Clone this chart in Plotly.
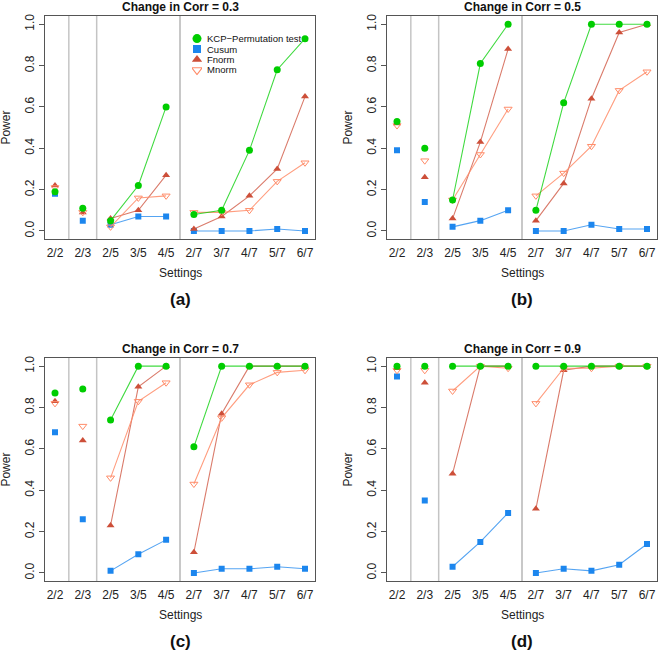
import plotly.graph_objects as go

# ---------------------------------------------------------------------------
# Data (power)
# ---------------------------------------------------------------------------
SETTINGS = ["2/2", "2/3", "2/5", "3/5", "4/5", "2/7", "3/7", "4/7", "5/7", "6/7"]
GROUPS = [[0], [1], [2, 3, 4], [5, 6, 7, 8, 9]]

KCP_A = [0.19, 0.11, 0.05, 0.22, 0.60, 0.08, 0.10, 0.39, 0.78, 0.93]
CUSUM_A = [0.18, 0.05, 0.03, 0.07, 0.07, 0.00, 0.00, 0.00, 0.01, 0.00]
FNORM_A = [0.22, 0.09, 0.06, 0.10, 0.27, 0.01, 0.07, 0.17, 0.30, 0.65]
MNORM_A = [0.21, 0.09, 0.02, 0.16, 0.17, 0.09, 0.09, 0.10, 0.24, 0.33]

KCP_B = [0.53, 0.40, 0.15, 0.81, 1.00, 0.10, 0.62, 1.00, 1.00, 1.00]
CUSUM_B = [0.39, 0.14, 0.02, 0.05, 0.10, 0.00, 0.00, 0.03, 0.01, 0.01]
FNORM_B = [0.52, 0.26, 0.06, 0.43, 0.88, 0.05, 0.23, 0.64, 0.96, 1.00]
MNORM_B = [0.51, 0.34, 0.15, 0.37, 0.59, 0.17, 0.28, 0.41, 0.68, 0.77]

KCP_C = [0.87, 0.89, 0.74, 1.00, 1.00, 0.61, 1.00, 1.00, 1.00, 1.00]
CUSUM_C = [0.68, 0.26, 0.01, 0.09, 0.16, 0.00, 0.02, 0.02, 0.03, 0.02]
FNORM_C = [0.83, 0.64, 0.23, 0.90, 1.00, 0.10, 0.77, 1.00, 1.00, 1.00]
MNORM_C = [0.82, 0.71, 0.46, 0.83, 0.92, 0.43, 0.75, 0.91, 0.97, 0.98]

KCP_D = [1.00, 1.00, 1.00, 1.00, 1.00, 1.00, 1.00, 1.00, 1.00, 1.00]
CUSUM_D = [0.95, 0.35, 0.03, 0.15, 0.29, 0.00, 0.02, 0.01, 0.04, 0.14]
FNORM_D = [0.99, 0.92, 0.48, 1.00, 1.00, 0.31, 0.98, 1.00, 1.00, 1.00]
MNORM_D = [0.98, 0.98, 0.88, 1.00, 0.99, 0.82, 0.99, 0.99, 1.00, 1.00]

METHODS = ["KCP\u2212Permutation test", "Cusum", "Fnorm", "Mnorm"]

PANELS = [
    ("Change in Corr = 0.3", "(a)", KCP_A, CUSUM_A, FNORM_A, MNORM_A),
    ("Change in Corr = 0.5", "(b)", KCP_B, CUSUM_B, FNORM_B, MNORM_B),
    ("Change in Corr = 0.7", "(c)", KCP_C, CUSUM_C, FNORM_C, MNORM_C),
    ("Change in Corr = 0.9", "(d)", KCP_D, CUSUM_D, FNORM_D, MNORM_D),
]

# ---------------------------------------------------------------------------
# Style
# ---------------------------------------------------------------------------
W, H = 658, 651
FONT = "Liberation Sans, Arial, Helvetica, sans-serif"
GREEN = "#00CD00"
BLUE = "#1C86EE"
RED = "#CD4F39"
SALMON = "#FF8C69"
BOX = "#555555"

STYLE = {
    "KCP": dict(color=GREEN, symbol="circle", size=7, line="rgba(0,205,0,0.75)"),
    "Cusum": dict(color=BLUE, symbol="square", size=6, line="rgba(28,134,238,0.75)"),
    "Fnorm": dict(color=RED, symbol="triangle-up", size=7, line="rgba(205,79,57,0.75)"),
    "Mnorm": dict(color=SALMON, symbol="triangle-down-open", size=7, line="rgba(255,140,105,0.85)"),
}

# panel boxes in pixels: (left, top)
PW, PH = 270, 224
ORIGINS = [(45, 14), (387, 14), (45, 357), (387, 357)]


def px_x(x):
    return x / W


def px_y(y):
    return 1 - y / H


def gapped(values):
    xs, ys = [], []
    for g in GROUPS:
        for i in g:
            xs.append(SETTINGS[i])
            ys.append(values[i])
        xs.append(None)
        ys.append(None)
    return xs, ys


fig = go.Figure()

for k, (title, tag, kcp, cusum, fnorm, mnorm) in enumerate(PANELS):
    n = k + 1
    xa = "x" if n == 1 else f"x{n}"
    ya = "y" if n == 1 else f"y{n}"
    left, top = ORIGINS[k]

    series = [("Cusum", cusum), ("Fnorm", fnorm), ("Mnorm", mnorm), ("KCP", kcp)]
    for key, vals in series:
        st = STYLE[key]
        lx, ly = gapped(vals)
        fig.add_trace(go.Scatter(
            x=lx, y=ly, mode="lines", xaxis=xa, yaxis=ya,
            line=dict(color=st["line"], width=1.1),
            showlegend=False, hoverinfo="skip",
        ))
        fig.add_trace(go.Scatter(
            x=SETTINGS, y=vals, mode="markers", xaxis=xa, yaxis=ya,
            marker=dict(color=st["color"], symbol=st["symbol"], size=st["size"],
                        line=dict(color=st["color"], width=1 if "open" in st["symbol"] else 0)),
            showlegend=False, name=key,
        ))

    dom_x = [px_x(left), px_x(left + PW)]
    dom_y = [px_y(top + PH), px_y(top)]
    axis_key = "" if n == 1 else str(n)
    fig.update_layout(**{
        f"xaxis{axis_key}": dict(
            domain=dom_x, type="category", categoryorder="array", categoryarray=SETTINGS,
            range=[-0.36, 9.36], showgrid=False, zeroline=False,
            showline=True, mirror=True, linecolor=BOX, linewidth=1,
            ticks="outside", ticklen=2, tickcolor="rgba(0,0,0,0)",
            tickfont=dict(size=12, color="#222"), anchor=ya,
        ),
        f"yaxis{axis_key}": dict(
            domain=dom_y, range=[-0.04, 1.04], showgrid=False, zeroline=False,
            showline=True, mirror=True, linecolor=BOX, linewidth=1,
            tickvals=[0, 0.2, 0.4, 0.6, 0.8, 1.0], ticktext=["0.0", "0.2", "0.4", "0.6", "0.8", "1.0"],
            ticks="outside", ticklen=5, tickcolor=BOX, tickangle=-90,
            tickfont=dict(size=12, color="#222"), anchor=xa,
        ),
    })

    # group separators
    for xv, col, wd in [(0.5, "#A8A8A8", 1), (1.5, "#C4C4C4", 1.5), (4.5, "#C8C8C8", 2)]:
        fig.add_shape(type="line", xref=xa, yref=f"{ya} domain", x0=xv, x1=xv, y0=0, y1=1,
                      line=dict(color=col, width=wd), layer="below")

    cx = px_x(left + PW / 2)
    fig.add_annotation(text=f"<b>{title}</b>", x=cx, y=px_y(top - 9), xref="paper", yref="paper",
                       showarrow=False, font=dict(size=12, color="#111"),
                       xanchor="center", yanchor="middle")
    fig.add_annotation(text="Settings", x=cx, y=px_y(top + PH + 34), xref="paper", yref="paper",
                       showarrow=False, font=dict(size=12, color="#222"),
                       xanchor="center", yanchor="middle")
    fig.add_annotation(text=f"<b>{tag}</b>", x=cx, y=px_y(top + PH + 60), xref="paper", yref="paper",
                       showarrow=False, font=dict(size=17, color="#111"),
                       xanchor="center", yanchor="middle")
    fig.add_annotation(text="Power", x=px_x(left - 39), y=px_y(top + PH / 2), xref="paper", yref="paper",
                       showarrow=False, textangle=-90, font=dict(size=12, color="#222"),
                       xanchor="center", yanchor="middle")

# ---------------------------------------------------------------------------
# Legend (panel a, compact like base R)
# ---------------------------------------------------------------------------
LEG_ROWS = [36.7, 47.2, 57.7, 68.2]
fig.update_layout(
    xaxis5=dict(domain=[px_x(192), px_x(202)], range=[0, 1], visible=False, anchor="y5"),
    yaxis5=dict(domain=[px_y(LEG_ROWS[-1] + 5.25), px_y(LEG_ROWS[0] - 5.25)], range=[-0.5, 3.5],
                visible=False, anchor="x5"),
)
for row, (key, label) in enumerate(zip(["KCP", "Cusum", "Fnorm", "Mnorm"], METHODS)):
    st = STYLE[key]
    fig.add_trace(go.Scatter(
        x=[0.5], y=[3 - row], mode="markers", xaxis="x5", yaxis="y5",
        marker=dict(color=st["color"], symbol=st["symbol"], size=st["size"] + 2,
                    line=dict(color=st["color"], width=1.2 if "open" in st["symbol"] else 0)),
        showlegend=False, hoverinfo="skip",
    ))
    fig.add_annotation(text=label, x=px_x(205), y=3 - row, xref="paper", yref="y5",
                       xanchor="left", yanchor="middle", showarrow=False,
                       font=dict(size=9.5, color="#111"))

fig.update_layout(
    width=W, height=H, margin=dict(l=0, r=0, t=0, b=0),
    plot_bgcolor="white", paper_bgcolor="white",
    font=dict(family=FONT, color="#222"),
    showlegend=False,
)

# drop the browser's default 8px body margin so the figure sits at the page corner
fig.write_html("out.html", config={"displayModeBar": False},
               post_script="document.body.style.margin='0';")
